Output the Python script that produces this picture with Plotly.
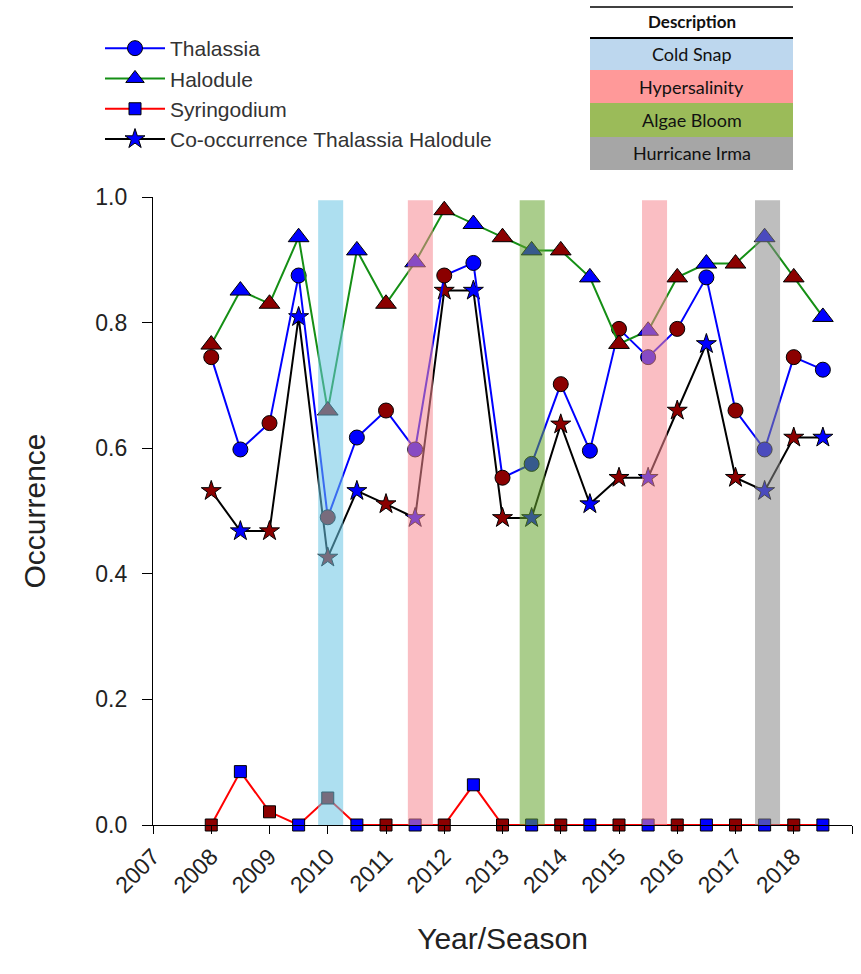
import plotly.graph_objects as go

# ---------------- data ----------------
seasons = [2008.0, 2008.5, 2009.0, 2009.5, 2010.0, 2010.5, 2011.0, 2011.5,
           2012.0, 2012.5, 2013.0, 2013.5, 2014.0, 2014.5, 2015.0, 2015.5,
           2016.0, 2016.5, 2017.0, 2017.5, 2018.0, 2018.5]
season_type = ["dry", "wet"] * 11

thalassia = [0.745, 0.598, 0.640, 0.875, 0.490, 0.617, 0.660, 0.598,
             0.875, 0.895, 0.553, 0.575, 0.702, 0.596, 0.790, 0.745,
             0.790, 0.872, 0.660, 0.598, 0.745, 0.725]
halodule = [0.765, 0.851, 0.830, 0.936, 0.660, 0.915, 0.830, 0.896,
            0.979, 0.957, 0.936, 0.915, 0.915, 0.872, 0.766, 0.787,
            0.872, 0.894, 0.894, 0.936, 0.872, 0.809]
syringodium = [0.0, 0.085, 0.021, 0.0, 0.043, 0.0, 0.0, 0.0,
               0.0, 0.064, 0.0, 0.0, 0.0, 0.0, 0.0, 0.0,
               0.0, 0.0, 0.0, 0.0, 0.0, 0.0]
cooccurrence = [0.532, 0.468, 0.468, 0.809, 0.426, 0.532, 0.511, 0.489,
                0.851, 0.851, 0.489, 0.489, 0.638, 0.511, 0.553, 0.553,
                0.660, 0.766, 0.553, 0.532, 0.617, 0.617]

event_names = ["Cold Snap", "Hypersalinity", "Algae Bloom", "Hypersalinity", "Hurricane Irma"]
event_centers = [2010.05, 2011.59, 2013.51, 2015.61, 2017.55]

table_header = "Description"
table_rows = ["Cold Snap", "Hypersalinity", "Algae Bloom", "Hurricane Irma"]

x_ticks = list(range(2007, 2020))
y_ticks = [0.0, 0.2, 0.4, 0.6, 0.8, 1.0]

# ---------------- styles ----------------
W, H = 861, 974
L, R, T, B = 153, 9, 197, 149
FONT = "'Liberation Sans', Arial, sans-serif"
TFONT = "Lato, 'Open Sans', sans-serif"
season_colors = {"dry": "#8b0000", "wet": "#0000ff"}
marker_cols = [season_colors[s] for s in season_type]

band_colors = {
    "Cold Snap": "rgba(105,196,227,0.55)",
    "Hypersalinity": "rgba(245,136,145,0.55)",
    "Algae Bloom": "rgba(100,164,45,0.55)",
    "Hurricane Irma": "rgba(136,136,136,0.55)",
}
table_colors = {
    "Cold Snap": "#bdd7ee",
    "Hypersalinity": "#ff9999",
    "Algae Bloom": "#9bbb59",
    "Hurricane Irma": "#a6a6a6",
}

series = [
    ("Syringodium", syringodium, "#ff0000", "square", 12),
    ("Co-occurrence Thalassia Halodule", cooccurrence, "#000000", "star", 15),
    ("Thalassia", thalassia, "#0000ff", "circle", 15),
    ("Halodule", halodule, "#158f15", "triangle-up", 18),
]
legend_order = ["Thalassia", "Halodule", "Syringodium", "Co-occurrence Thalassia Halodule"]

fig = go.Figure()
for name, vals, lc, sym, sz in series:
    fig.add_trace(go.Scatter(
        x=seasons, y=vals, mode="lines+markers", name=name, showlegend=False,
        line=dict(color=lc, width=2),
        marker=dict(symbol=sym, size=sz, color=marker_cols,
                    line=dict(color="#000000", width=1)),
        cliponaxis=False,
    ))

# legend entries (blue markers as in the reference key)
sdict = {s[0]: s for s in series}
for i, name in enumerate(legend_order):
    _, _, lc, sym, sz = sdict[name]
    fig.add_trace(go.Scatter(
        x=[None], y=[None], mode="lines+markers", name=name, legendrank=i + 1,
        line=dict(color=lc, width=2),
        marker=dict(symbol=sym, size=sz, color="#0000ff",
                    line=dict(color="#000000", width=1)),
    ))

shapes = []
annotations = []
half_w = 0.215
for name, c in zip(event_names, event_centers):
    shapes.append(dict(type="rect", xref="x", yref="y", x0=c - half_w, x1=c + half_w,
                       y0=0, y1=0.995, fillcolor=band_colors[name],
                       line=dict(width=0), layer="above"))

def px2x(px):
    return (px - L) / (W - L - R)

def px2y(py):
    return (H - B - py) / (H - T - B)

# description table
tx0, tx1 = 590, 793
row_edges = [38, 70, 103, 137, 170]
for i, name in enumerate(table_rows):
    y0, y1 = row_edges[i], row_edges[i + 1]
    shapes.append(dict(type="rect", xref="paper", yref="paper",
                       x0=px2x(tx0), x1=px2x(tx1), y0=px2y(y1), y1=px2y(y0),
                       fillcolor=table_colors[name], line=dict(width=0), layer="above"))
    annotations.append(dict(xref="paper", yref="paper", x=px2x((tx0 + tx1) / 2),
                            y=px2y((y0 + y1) / 2), text=name, showarrow=False,
                            font=dict(family=TFONT, size=18, color="#111111"),
                            xanchor="center", yanchor="middle"))
shapes.append(dict(type="line", xref="paper", yref="paper", x0=px2x(tx0), x1=px2x(tx1),
                   y0=px2y(7), y1=px2y(7), line=dict(color="#000000", width=1.5)))
shapes.append(dict(type="line", xref="paper", yref="paper", x0=px2x(tx0), x1=px2x(tx1),
                   y0=px2y(38), y1=px2y(38), line=dict(color="#000000", width=2)))
annotations.append(dict(xref="paper", yref="paper", x=px2x((tx0 + tx1) / 2), y=px2y(22),
                        text="<b>" + table_header + "</b>", showarrow=False,
                        font=dict(family=TFONT, size=17, color="#111111"),
                        xanchor="center", yanchor="middle"))

fig.update_layout(
    width=W, height=H, autosize=False,
    margin=dict(l=L, r=R, t=T, b=B, pad=0),
    paper_bgcolor="white", plot_bgcolor="white",
    font=dict(family=FONT, color="#222222"),
    shapes=shapes, annotations=annotations,
    legend=dict(x=px2x(100), y=px2y(28), xanchor="left", yanchor="top",
                bgcolor="rgba(0,0,0,0)", font=dict(size=21, family=FONT, color="#333333"),
                itemwidth=60, tracegroupgap=0, traceorder="normal"),
    xaxis=dict(range=[2007, 2019], tickvals=x_ticks, ticktext=[str(v) for v in x_ticks],
               tickangle=-45, ticks="outside", ticklen=8, tickwidth=1, tickcolor="#000000",
               showline=True, linecolor="#000000", linewidth=1.2, showgrid=False, zeroline=False,
               tickfont=dict(size=23, family=FONT, color="#222222"),
               title=dict(text="Year/Season", font=dict(size=30, family=FONT, color="#222222"),
                          standoff=30)),
    yaxis=dict(range=[0, 1.0], tickvals=y_ticks, tickformat=".1f",
               ticks="outside", ticklen=10, tickwidth=1, tickcolor="#000000",
               showline=True, linecolor="#000000", linewidth=1.2, showgrid=False, zeroline=False,
               ticklabelstandoff=10,
               tickfont=dict(size=23, family=FONT, color="#222222"),
               title=dict(text="Occurrence", font=dict(size=30, family=FONT, color="#222222"),
                          standoff=40)),
)

fig.write_html("out.html")
